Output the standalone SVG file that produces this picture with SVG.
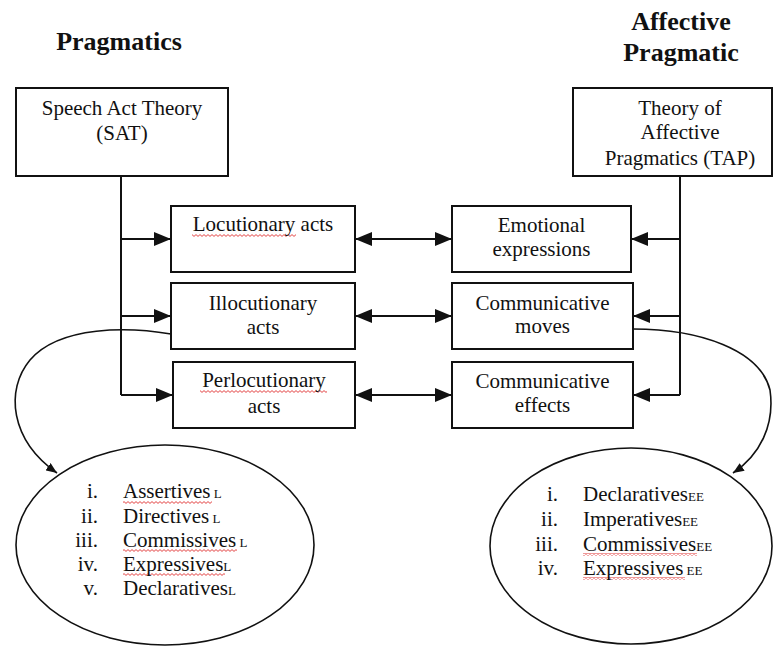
<svg xmlns="http://www.w3.org/2000/svg" width="774" height="646" viewBox="0 0 774 646">
<style>
  text { font-family: "Liberation Serif", "Times New Roman", serif; fill: #111; }
  .t { font-size: 21px; text-anchor: middle; }
  .title { font-size: 26px; font-weight: bold; text-anchor: middle; }
  .li { font-size: 21px; }
  .num { font-size: 21px; text-anchor: end; }
  .sub { font-size: 13px; }
  .box { fill: #fff; stroke: #111; stroke-width: 2; }
  .ln { fill: none; stroke: #111; stroke-width: 2; }
  .cv { fill: none; stroke: #111; stroke-width: 1.6; }
  .ell { fill: #fff; stroke: #111; stroke-width: 1.6; }
  .wave { fill: url(#wave); }
</style>
<defs>
  <marker id="ah" markerUnits="userSpaceOnUse" markerWidth="17" markerHeight="14" refX="17" refY="7" orient="auto-start-reverse">
    <path d="M0,0 L17,7 L0,14 z" fill="#111"/>
  </marker>
  <marker id="sh" markerUnits="userSpaceOnUse" markerWidth="11" markerHeight="9" refX="11" refY="4.5" orient="auto">
    <path d="M0,0 L11,4.5 L0,9 z" fill="#111"/>
  </marker>
  <pattern id="wave" patternUnits="userSpaceOnUse" width="4" height="3">
    <path d="M0,0.6 L2,2.4 L4,0.6" fill="none" stroke="#e03030" stroke-width="0.9"/>
  </pattern>
</defs>

<g id="title-pragmatics"><text class="title" x="119" y="50">Pragmatics</text></g>
<g id="title-affective">
  <text class="title" x="681" y="30">Affective</text>
  <text class="title" x="681" y="61">Pragmatic</text>
</g>

<g id="connectors">
  <path class="ln" d="M121,176 V395"/>
  <path class="ln" d="M121,239 H171" marker-end="url(#ah)"/>
  <path class="ln" d="M121,316 H171" marker-end="url(#ah)"/>
  <path class="ln" d="M121,395 H173" marker-end="url(#ah)"/>
  <path class="ln" d="M680,176 V395"/>
  <path class="ln" d="M680,239 H631" marker-end="url(#ah)"/>
  <path class="ln" d="M680,316 H633" marker-end="url(#ah)"/>
  <path class="ln" d="M680,395 H633" marker-end="url(#ah)"/>
  <path class="ln" d="M355,239 H452" marker-start="url(#ah)" marker-end="url(#ah)"/>
  <path class="ln" d="M355,316 H452" marker-start="url(#ah)" marker-end="url(#ah)"/>
  <path class="ln" d="M355,395 H452" marker-start="url(#ah)" marker-end="url(#ah)"/>
</g>

<g id="curves">
  <path class="cv" d="M171,334 C130,327 60,325 30,360 C5,390 10,440 57,473" marker-end="url(#sh)"/>
  <path class="cv" d="M633,329 C700,329 760,350 770,390 C775,425 760,455 733,473" marker-end="url(#sh)"/>
</g>

<g id="sat">
  <rect class="box" x="16" y="88" width="212" height="88"/>
  <text class="t" x="122" y="115">Speech Act Theory</text>
  <text class="t" x="122" y="140">(SAT)</text>
</g>
<g id="tap">
  <rect class="box" x="573" y="88" width="199" height="88"/>
  <text class="t" x="680" y="115">Theory of</text>
  <text class="t" x="680" y="139">Affective</text>
  <text class="t" x="680" y="165">Pragmatics (TAP)</text>
</g>

<g id="locutionary">
  <rect class="box" x="171" y="206" width="184" height="66"/>
  <rect class="wave" x="192" y="234" width="104" height="3"/>
  <text class="t" x="263" y="231">Locutionary acts</text>
</g>
<g id="illocutionary">
  <rect class="box" x="171" y="283" width="184" height="66"/>
  <text class="t" x="263" y="310">Illocutionary</text>
  <text class="t" x="263" y="334">acts</text>
</g>
<g id="perlocutionary">
  <rect class="box" x="173" y="362" width="182" height="66"/>
  <rect class="wave" x="200" y="390" width="127" height="3"/>
  <text class="t" x="264" y="387">Perlocutionary</text>
  <text class="t" x="264" y="413">acts</text>
</g>

<g id="emotional">
  <rect class="box" x="452" y="206" width="179" height="66"/>
  <text class="t" x="541.5" y="232">Emotional</text>
  <text class="t" x="541.5" y="256">expressions</text>
</g>
<g id="moves">
  <rect class="box" x="452" y="283" width="181" height="66"/>
  <text class="t" x="542.5" y="310">Communicative</text>
  <text class="t" x="542.5" y="333">moves</text>
</g>
<g id="effects">
  <rect class="box" x="452" y="362" width="181" height="66"/>
  <text class="t" x="542.5" y="388">Communicative</text>
  <text class="t" x="542.5" y="412">effects</text>
</g>

<g id="ellipse-left">
  <ellipse class="ell" cx="165" cy="545" rx="149" ry="100"/>
  <rect class="wave" x="123" y="501" width="89" height="3"/>
  <rect class="wave" x="123" y="549" width="114" height="3"/>
  <rect class="wave" x="123" y="573" width="102" height="3"/>
  <text class="num" x="98" y="498">i.</text>
  <text class="num" x="98" y="523">ii.</text>
  <text class="num" x="98" y="547">iii.</text>
  <text class="num" x="98" y="571">iv.</text>
  <text class="num" x="98" y="595">v.</text>
  <text class="li" x="123" y="498">Assertives<tspan class="sub"> L</tspan></text>
  <text class="li" x="123" y="523">Directives<tspan class="sub"> L</tspan></text>
  <text class="li" x="123" y="547">Commissives<tspan class="sub"> L</tspan></text>
  <text class="li" x="123" y="571">Expressives<tspan class="sub">L</tspan></text>
  <text class="li" x="123" y="595">Declaratives<tspan class="sub">L</tspan></text>
</g>

<g id="ellipse-right">
  <ellipse class="ell" cx="631" cy="546" rx="141" ry="98"/>
  <rect class="wave" x="583" y="553" width="114" height="3"/>
  <rect class="wave" x="583" y="577" width="102" height="3"/>
  <text class="num" x="558" y="501">i.</text>
  <text class="num" x="558" y="526">ii.</text>
  <text class="num" x="558" y="551">iii.</text>
  <text class="num" x="558" y="575">iv.</text>
  <text class="li" x="583" y="501">Declaratives<tspan class="sub">EE</tspan></text>
  <text class="li" x="583" y="526">Imperatives<tspan class="sub">EE</tspan></text>
  <text class="li" x="583" y="551">Commissives<tspan class="sub">EE</tspan></text>
  <text class="li" x="583" y="575">Expressives<tspan class="sub"> EE</tspan></text>
</g>
</svg>
